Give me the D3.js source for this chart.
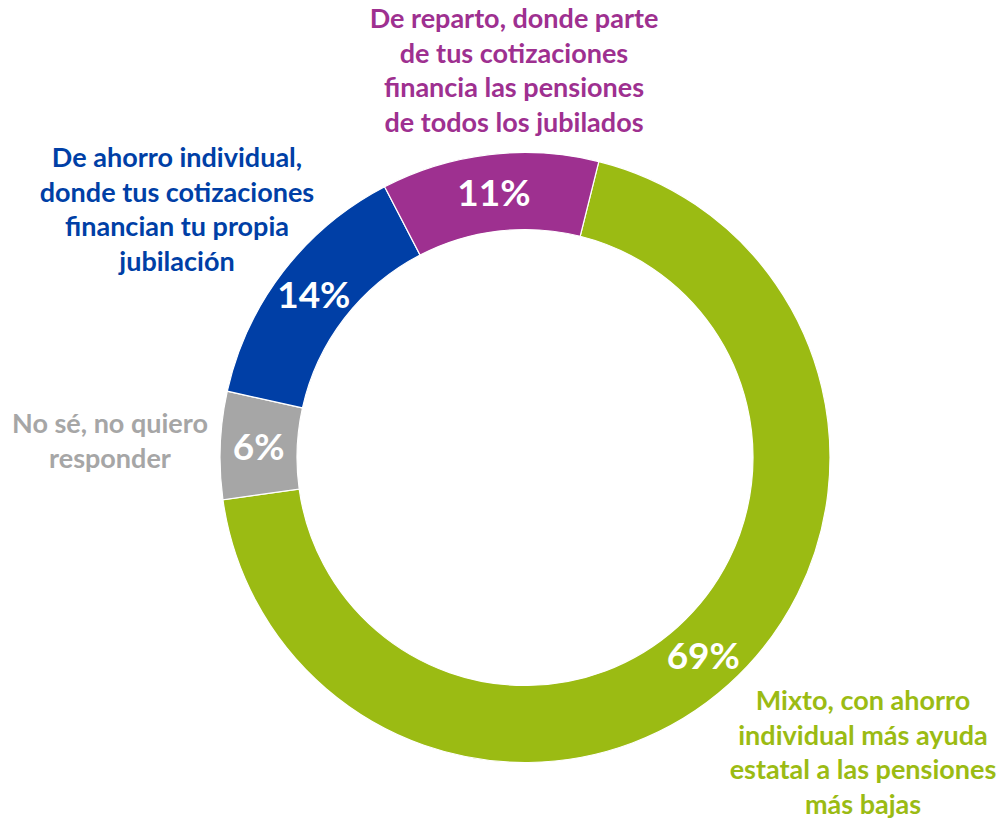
<!DOCTYPE html>
<html>
<head>
<meta charset="utf-8">
<script src="https://cdn.jsdelivr.net/npm/d3@7"></script>
<style>
  html, body { margin: 0; padding: 0; background: #fff; }
  svg { display: block; }
  text { font-family: Lato, "Open Sans", sans-serif; font-weight: bold; }
</style>
</head>
<body>
<div id="chart"></div>
<script>
// data
var categories = ["Mixto", "No sé", "Ahorro individual", "Reparto"];
var values = [68.9, 5.7, 13.9, 11.5];
var pct_labels = ["69%", "6%", "14%", "11%"];
var colors = ["#9bbb13", "#a6a6a6", "#003fa6", "#9e3090"];
var label_lines = [
    ["Mixto, con ahorro", "individual más ayuda", "estatal a las pensiones", "más bajas"],
    ["No sé, no quiero", "responder"],
    ["De ahorro individual,", "donde tus cotizaciones", "financian tu propia", "jubilación"],
    ["De reparto, donde parte", "de tus cotizaciones", "financia las pensiones", "de todos los jubilados"]
];

var width = 1006, height = 822;
var cx = 525, cy = 457.5;
var outer_r = 305, inner_r = 228;
var start = 14 * Math.PI / 180;

var svg = d3.select("#chart")
    .append("svg")
    .attr("width", width)
    .attr("height", height);

var data = categories.map(function (c, i) {
    return {cat: c, value: values[i], pct: pct_labels[i], color: colors[i], lines: label_lines[i]};
});

var pie = d3.pie()
    .sort(null)
    .value(function (d) { return d.value; })
    .startAngle(start)
    .endAngle(start + 2 * Math.PI);

var arc = d3.arc()
    .innerRadius(inner_r)
    .outerRadius(outer_r);

var donut = svg.append("g")
    .attr("transform", "translate(" + cx + "," + cy + ")");

var slices = donut.selectAll("g.slice")
    .data(pie(data))
    .enter()
    .append("g")
    .attr("class", "slice");

slices.append("path")
    .attr("d", arc)
    .style("fill", function (d) { return d.data.color; })
    .style("stroke", "#fff")
    .style("stroke-width", 1.2);

// percentages sit on the ring centroid
slices.append("text")
    .attr("transform", function (d) {
        var c = arc.centroid(d);
        return "translate(" + c[0] + "," + c[1] + ")";
    })
    .attr("dy", "0.36em")
    .style("text-anchor", "middle")
    .style("font-size", "37px")
    .style("fill", "#fff")
    .text(function (d) { return d.data.pct; });

// category labels, placed by hand like the original
var label_anchor = {
    "Mixto": [863, 710],
    "No sé": [110, 433],
    "Ahorro individual": [177, 167],
    "Reparto": [514, 28]
};
var line_h = 34.5;

data.forEach(function (d) {
    var a = label_anchor[d.cat];
    var t = svg.append("text")
        .attr("x", a[0])
        .attr("y", a[1])
        .style("text-anchor", "middle")
        .style("font-size", "27px")
        .style("fill", d.color);
    d.lines.forEach(function (l, i) {
        t.append("tspan")
            .attr("x", a[0])
            .attr("y", a[1] + i * line_h)
            .text(l);
    });
});
</script>
</body>
</html>
